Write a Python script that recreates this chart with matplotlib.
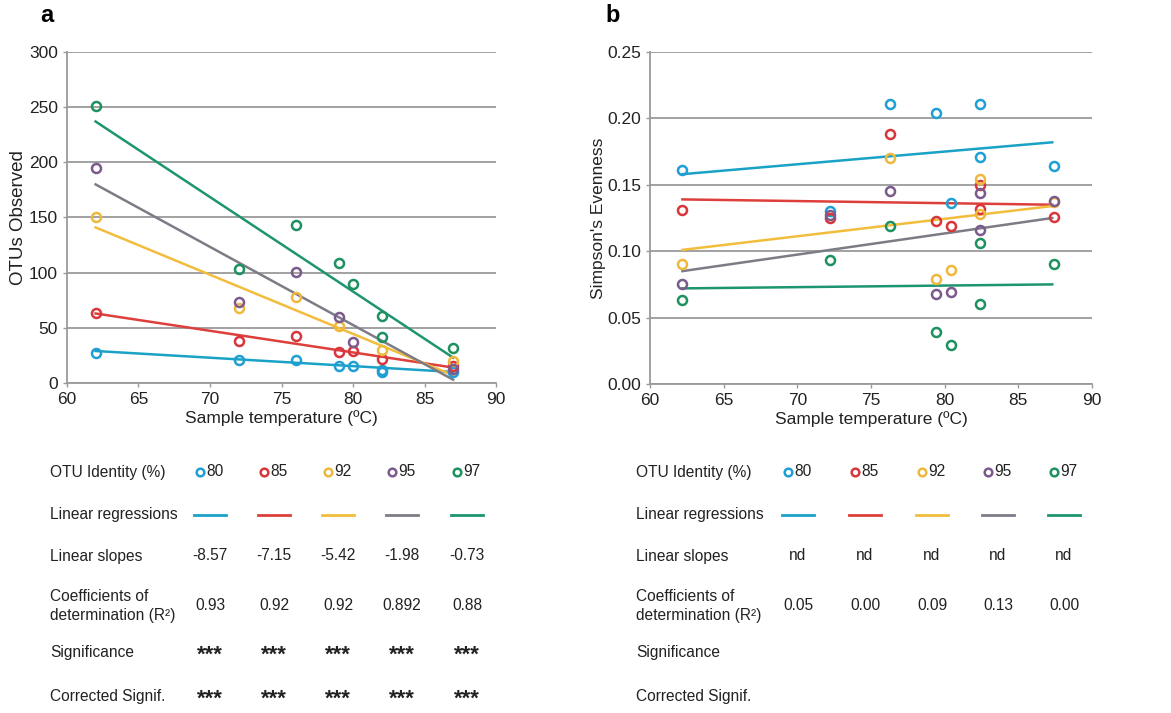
import matplotlib
matplotlib.use("Agg")
import matplotlib.pyplot as plt

plt.rcParams["font.family"] = ["Liberation Sans", "DejaVu Sans"]
plt.rcParams["font.size"] = 12.5

W, H = 1171, 713

# OTU identity thresholds and colours
identities = ["80", "85", "92", "95", "97"]
marker_colors = ["#1f9fd3", "#d8363b", "#f0b83a", "#7b5a8e", "#1e9160"]
line_colors = ["#1aa2c6", "#dd3f3a", "#f2bd3c", "#7d7b86", "#1d9570"]

# panel a: OTUs observed vs temperature
temp_a = {
    "80": [62, 72, 76, 79, 80, 82, 82, 87],
    "85": [62, 72, 76, 79, 80, 82, 87],
    "92": [62, 72, 76, 79, 82, 87],
    "95": [62, 72, 76, 79, 80, 87],
    "97": [62, 72, 76, 79, 80, 82, 82, 87],
}
otus_a = {
    "80": [27, 21, 21, 15, 15, 12, 10, 10],
    "85": [63, 38, 43, 28, 29, 22, 15],
    "92": [150, 68, 78, 52, 30, 20],
    "95": [195, 73, 101, 60, 37, 13],
    "97": [251, 103, 143, 109, 90, 61, 42, 32],
}
fit_a_x = [62, 87]
fit_a = {
    "80": [29, 10],
    "85": [63, 14],
    "92": [141, 7],
    "95": [180, 3],
    "97": [237, 23],
}

# panel b: Simpson's evenness vs temperature
temp_b = {
    "80": [62.2, 72.2, 76.3, 79.4, 80.4, 82.4, 82.4, 87.4],
    "85": [62.2, 72.2, 76.3, 79.4, 80.4, 82.4, 82.4, 87.4],
    "92": [62.2, 76.3, 79.4, 80.4, 82.4, 82.4, 87.4],
    "95": [62.2, 72.2, 76.3, 79.4, 80.4, 82.4, 82.4, 87.4],
    "97": [62.2, 72.2, 76.3, 79.4, 80.4, 82.4, 82.4, 87.4],
}
even_b = {
    "80": [0.161, 0.130, 0.211, 0.204, 0.136, 0.211, 0.171, 0.164],
    "85": [0.131, 0.125, 0.188, 0.123, 0.119, 0.150, 0.132, 0.126],
    "92": [0.090, 0.170, 0.079, 0.086, 0.154, 0.128, 0.137],
    "95": [0.075, 0.127, 0.145, 0.068, 0.069, 0.144, 0.116, 0.138],
    "97": [0.063, 0.093, 0.119, 0.039, 0.029, 0.106, 0.060, 0.090],
}
fit_b_x = [62.2, 87.3]
fit_b = {
    "80": [0.158, 0.182],
    "85": [0.139, 0.135],
    "92": [0.101, 0.134],
    "95": [0.085, 0.125],
    "97": [0.072, 0.075],
}

row_labels = ["OTU Identity (%)", "Linear regressions", "Linear slopes",
              "Coefficients of\ndetermination (R²)", "Significance", "Corrected Signif."]
slopes_a = ["-8.57", "-7.15", "-5.42", "-1.98", "-0.73"]
r2_a = ["0.93", "0.92", "0.92", "0.892", "0.88"]
signif_a = ["***"] * 5
corr_signif_a = ["***"] * 5
slopes_b = ["nd"] * 5
r2_b = ["0.05", "0.00", "0.09", "0.13", "0.00"]
signif_b = [""] * 5
corr_signif_b = [""] * 5

TXT = "#222222"
TAB_FS = 11.2

fig = plt.figure(figsize=(W / 100, H / 100), dpi=100)


def px_axes(l, t, r, b):
    return fig.add_axes([l / W, 1 - b / H, (r - l) / W, (b - t) / H])


def style(ax, yticks, yfmt):
    ax.set_xlim(60, 90)
    ax.set_xticks(range(60, 91, 5))
    ax.set_yticks(yticks)
    ax.set_yticklabels([yfmt.format(v) for v in yticks])
    ax.set_ylim(yticks[0], yticks[-1])
    ax.yaxis.grid(True, color="#9a9a9a", lw=1.3)
    ax.set_axisbelow(True)
    for s in ["top", "right"]:
        ax.spines[s].set_visible(False)
    for s in ["left", "bottom"]:
        ax.spines[s].set_color("#9a9a9a")
        ax.spines[s].set_linewidth(1.3)
    ax.tick_params(colors="#9a9a9a", labelcolor=TXT, length=3, width=1)
    ax.set_xlabel("Sample temperature (ºC)", labelpad=2, color=TXT)


ax_a = px_axes(67, 52, 496, 383)
ax_b = px_axes(650, 52, 1092, 384)

for k, ident in enumerate(identities):
    ax_a.plot(fit_a_x, fit_a[ident], color=line_colors[k], lw=1.8, zorder=3)
    ax_a.plot(temp_a[ident], otus_a[ident], "o", mfc="none", mec=marker_colors[k],
              mew=1.8, ms=6.5, zorder=4)
    ax_b.plot(fit_b_x, fit_b[ident], color=line_colors[k], lw=1.8, zorder=3)
    ax_b.plot(temp_b[ident], even_b[ident], "o", mfc="none", mec=marker_colors[k],
              mew=1.8, ms=6.5, zorder=4)

style(ax_a, [0, 50, 100, 150, 200, 250, 300], "{:g}")
style(ax_b, [0, 0.05, 0.10, 0.15, 0.20, 0.25], "{:.2f}")
ax_a.set_ylabel("OTUs Observed", color=TXT, labelpad=1, fontsize=13.5)
ax_b.set_ylabel("Simpson's Evenness", color=TXT, labelpad=1)

fig.text(40 / W, 1 - 16 / H, "a", fontsize=17, fontweight="bold", va="center")
fig.text(605 / W, 1 - 16 / H, "b", fontsize=17, fontweight="bold", va="center")

# table area below the plots, drawn in pixel coordinates
tab = fig.add_axes([0, 0, 1, 1])
tab.set_xlim(0, W)
tab.set_ylim(H, 0)
tab.axis("off")

row_y = [472, 515, 556, 606, 653, 697]


def table(x_label, col_x, slopes, r2, signif, corr_signif):
    for lbl, y in zip(row_labels, row_y):
        tab.text(x_label, y, lbl, va="center", ha="left", color=TXT,
                 fontsize=TAB_FS, linespacing=1.3)
    for k, cx in enumerate(col_x):
        tab.plot([cx - 10], [row_y[0]], "o", mfc="none", mec=marker_colors[k],
                 mew=1.8, ms=5.5)
        tab.text(cx - 4, row_y[0], identities[k], va="center", ha="left", color=TXT,
                 fontsize=TAB_FS)
        tab.plot([cx - 16, cx + 16], [row_y[1], row_y[1]], color=line_colors[k], lw=2)
        tab.text(cx, row_y[2], slopes[k], va="center", ha="center", color=TXT,
                 fontsize=TAB_FS)
        tab.text(cx, row_y[3], r2[k], va="center", ha="center", color=TXT,
                 fontsize=TAB_FS)
        for y, s in ((row_y[4], signif[k]), (row_y[5], corr_signif[k])):
            # asterisks sit high in the font, nudge them down to the row centre
            tab.text(cx, y + 2, s, va="center", ha="center", color=TXT,
                     fontsize=16, fontweight="bold")


table(50, [210, 274, 338, 402, 467], slopes_a, r2_a, signif_a, corr_signif_a)
table(636, [798, 865, 932, 998, 1064], slopes_b, r2_b, signif_b, corr_signif_b)

fig.savefig("out.png", dpi=100)
